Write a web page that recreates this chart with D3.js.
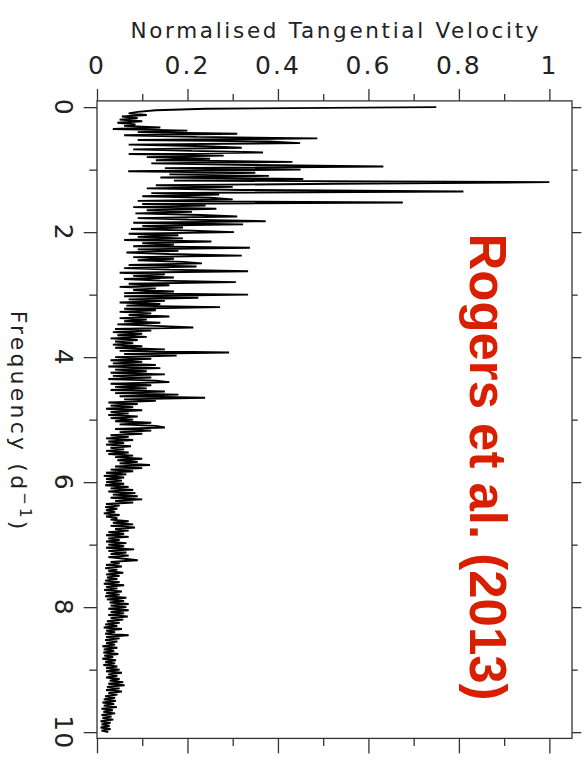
<!DOCTYPE html>
<html>
<head>
<meta charset="utf-8">
<script src="https://cdn.jsdelivr.net/npm/d3@7"></script>
<style>
  body { margin: 0; background: #fff; }
  svg { display: block; }
</style>
</head>
<body>
<svg id="chart" width="585" height="766"></svg>
<script>
// frequency sampling of the spectrum (d^-1)
const freqStep = 0.025;

// normalised tangential velocity, one value per freqStep, f = 0 .. 10
const velocity = [
  0.75, 0.24, 0.13, 0.09, 0.07, 0.11, 0.055, 0.09, 0.05, 0.10, 0.045, 0.085, 0.06, 0.14, 0.035, 0.20, 0.09, 0.31, 0.06, 0.22,
  0.487, 0.09, 0.38, 0.449, 0.07, 0.24, 0.32, 0.08, 0.21, 0.367, 0.07, 0.28, 0.11, 0.25, 0.13, 0.432, 0.12, 0.34, 0.633, 0.15,
  0.45, 0.069, 0.35, 0.16, 0.38, 0.14, 0.456, 0.17, 1.0, 0.53, 0.13, 0.30, 0.11, 0.32, 0.81, 0.12, 0.27, 0.10, 0.25, 0.30,
  0.09, 0.676, 0.10, 0.24, 0.08, 0.264, 0.11, 0.21, 0.085, 0.23, 0.31, 0.09, 0.20, 0.373, 0.08, 0.323, 0.10, 0.19, 0.075, 0.21,
  0.303, 0.07, 0.18, 0.09, 0.19, 0.06, 0.253, 0.10, 0.17, 0.08, 0.338, 0.09, 0.18, 0.065, 0.16, 0.32, 0.08, 0.17, 0.09, 0.19,
  0.232, 0.07, 0.22, 0.06, 0.16, 0.334, 0.05, 0.15, 0.08, 0.17, 0.06, 0.14, 0.307, 0.07, 0.16, 0.05, 0.13, 0.08, 0.17, 0.06,
  0.334, 0.06, 0.224, 0.07, 0.15, 0.05, 0.14, 0.065, 0.272, 0.06, 0.13, 0.05, 0.12, 0.07, 0.16, 0.05, 0.11, 0.06, 0.14, 0.045,
  0.13, 0.213, 0.04, 0.12, 0.035, 0.10, 0.045, 0.11, 0.03, 0.09, 0.04, 0.08, 0.035, 0.10, 0.04, 0.15, 0.05, 0.292, 0.06, 0.176,
  0.04, 0.12, 0.03, 0.10, 0.035, 0.13, 0.025, 0.14, 0.04, 0.11, 0.03, 0.15, 0.035, 0.12, 0.025, 0.13, 0.16, 0.03, 0.12, 0.04,
  0.11, 0.03, 0.15, 0.04, 0.18, 0.05, 0.239, 0.06, 0.13, 0.025, 0.09, 0.03, 0.08, 0.02, 0.10, 0.03, 0.07, 0.025, 0.09, 0.03,
  0.08, 0.04, 0.12, 0.05, 0.13, 0.15, 0.04, 0.12, 0.05, 0.10, 0.03, 0.07, 0.02, 0.08, 0.025, 0.06, 0.02, 0.075, 0.03, 0.06,
  0.02, 0.07, 0.025, 0.08, 0.04, 0.10, 0.045, 0.09, 0.05, 0.117, 0.04, 0.10, 0.03, 0.08, 0.02, 0.065, 0.015, 0.06, 0.02, 0.055,
  0.02, 0.06, 0.018, 0.07, 0.03, 0.08, 0.025, 0.085, 0.035, 0.09, 0.03, 0.10, 0.04, 0.08, 0.02, 0.05, 0.018, 0.045, 0.02, 0.04,
  0.015, 0.05, 0.02, 0.045, 0.03, 0.07, 0.035, 0.08, 0.03, 0.084, 0.04, 0.07, 0.025, 0.06, 0.02, 0.07, 0.025, 0.05, 0.02, 0.065,
  0.025, 0.06, 0.02, 0.082, 0.025, 0.065, 0.03, 0.07, 0.025, 0.06, 0.09, 0.03, 0.05, 0.02, 0.055, 0.018, 0.045, 0.025, 0.058, 0.02,
  0.05, 0.022, 0.045, 0.018, 0.05, 0.015, 0.06, 0.02, 0.045, 0.016, 0.055, 0.02, 0.05, 0.018, 0.065, 0.022, 0.06, 0.028, 0.07, 0.03,
  0.065, 0.025, 0.07, 0.03, 0.06, 0.025, 0.068, 0.03, 0.058, 0.022, 0.05, 0.018, 0.045, 0.015, 0.055, 0.02, 0.04, 0.018, 0.07, 0.02,
  0.05, 0.018, 0.045, 0.02, 0.04, 0.012, 0.045, 0.015, 0.038, 0.014, 0.047, 0.016, 0.036, 0.012, 0.042, 0.018, 0.04, 0.014, 0.045, 0.02,
  0.05, 0.02, 0.055, 0.025, 0.045, 0.02, 0.05, 0.028, 0.058, 0.025, 0.061, 0.022, 0.05, 0.02, 0.055, 0.025, 0.045, 0.018, 0.04, 0.015,
  0.042, 0.012, 0.038, 0.015, 0.044, 0.01, 0.035, 0.014, 0.04, 0.01, 0.032, 0.012, 0.036, 0.008, 0.03, 0.01, 0.028, 0.008, 0.03, 0.01,
  0.025
];

const velTicks = [0, 0.2, 0.4, 0.6, 0.8, 1];
const velLabels = ["0", "0.2", "0.4", "0.6", "0.8", "1"];
const velMinor = [0.1, 0.3, 0.5, 0.7, 0.9];
const freqTicks = [0, 2, 4, 6, 8, 10];
const freqLabels = ["0", "2", "4", "6", "8", "10"];
const freqMinor = [1, 3, 5, 7, 9];

const svg = d3.select("#chart");
const axisFont = "DejaVu Sans, sans-serif";

// velocity runs left->right, frequency runs top->bottom
const x = d3.scaleLinear().domain([0, 1.05]).range([97, 572]);
const y = d3.scaleLinear().domain([-0.1, 10.1]).range([100.9, 738.4]);

const [x0, x1] = x.range();
const [y0, y1] = y.range();

function ticks(axis, vals, size, tx, ty) {
  svg.append("g")
    .attr("transform", "translate(" + tx + "," + ty + ")")
    .call(axis.tickValues(vals).tickSize(size).tickSizeOuter(0).tickFormat(""))
    .call(g => g.select(".domain").remove())
    .call(g => g.selectAll("line").attr("stroke", "#333").attr("stroke-width", 1.3));
}

ticks(d3.axisTop(x), velTicks, 12, 0, y0);
ticks(d3.axisTop(x), velMinor, 7, 0, y0);
ticks(d3.axisBottom(x), velTicks, 15, 0, y1);
ticks(d3.axisBottom(x), velMinor, 7.5, 0, y1);
ticks(d3.axisLeft(y), freqTicks, 13.3, x0, 0);
ticks(d3.axisLeft(y), freqMinor, 7.7, x0, 0);
ticks(d3.axisRight(y), freqTicks, 9.3, x1, 0);
ticks(d3.axisRight(y), freqMinor, 5.7, x1, 0);

// spectrum
const line = d3.line()
  .x(d => x(d))
  .y((d, i) => y(i * freqStep));

svg.append("path")
  .datum(velocity)
  .attr("d", line)
  .attr("fill", "none")
  .attr("stroke", "#000")
  .attr("stroke-width", 1.9)
  .attr("stroke-linejoin", "bevel");

// frame
svg.append("rect")
  .attr("x", x0).attr("y", y0)
  .attr("width", x1 - x0).attr("height", y1 - y0)
  .attr("fill", "none")
  .attr("stroke", "#333")
  .attr("stroke-width", 1.3);

// top tick labels + title
svg.selectAll(".vlab")
  .data(velTicks)
  .enter().append("text")
  .attr("class", "vlab")
  .attr("x", d => x(d))
  .attr("y", 74)
  .attr("text-anchor", "middle")
  .attr("font-family", axisFont)
  .attr("font-size", 25)
  .attr("letter-spacing", 2)
  .attr("fill", "#222")
  .text((d, i) => velLabels[i]);

svg.append("text")
  .attr("x", (x0 + x1) / 2)
  .attr("y", 37.5)
  .attr("text-anchor", "middle")
  .attr("font-family", axisFont)
  .attr("font-size", 21.5)
  .attr("fill", "#222")
  .attr("textLength", 408)
  .attr("lengthAdjust", "spacing")
  .text("Normalised Tangential Velocity");

// left tick labels, rotated with the plot
svg.selectAll(".flab")
  .data(freqTicks)
  .enter().append("text")
  .attr("class", "flab")
  .attr("transform", d => "translate(55," + y(d) + ") rotate(90)")
  .attr("text-anchor", "middle")
  .attr("font-family", axisFont)
  .attr("font-size", 25)
  .attr("letter-spacing", 1)
  .attr("fill", "#222")
  .text((d, i) => freqLabels[i]);

const flabel = svg.append("text")
  .attr("transform", "translate(11," + ((y0 + y1) / 2 + 2) + ") rotate(90)")
  .attr("text-anchor", "middle")
  .attr("font-family", axisFont)
  .attr("font-size", 22)
  .attr("letter-spacing", 3.2)
  .attr("fill", "#222");
flabel.append("tspan").text("Frequency  (d");
flabel.append("tspan").attr("dy", -9).attr("font-size", 15).text("\u22121");
flabel.append("tspan").attr("dy", 9).text(")");

// citation
svg.append("text")
  .attr("transform", "translate(470,467) rotate(90)")
  .attr("text-anchor", "middle")
  .attr("font-family", "Liberation Sans, Arial, sans-serif")
  .attr("font-weight", "bold")
  .attr("font-size", 52)
  .attr("textLength", 467)
  .attr("lengthAdjust", "spacingAndGlyphs")
  .attr("fill", "#d81f00")
  .text("Rogers et al. (2013)");
</script>
</body>
</html>
